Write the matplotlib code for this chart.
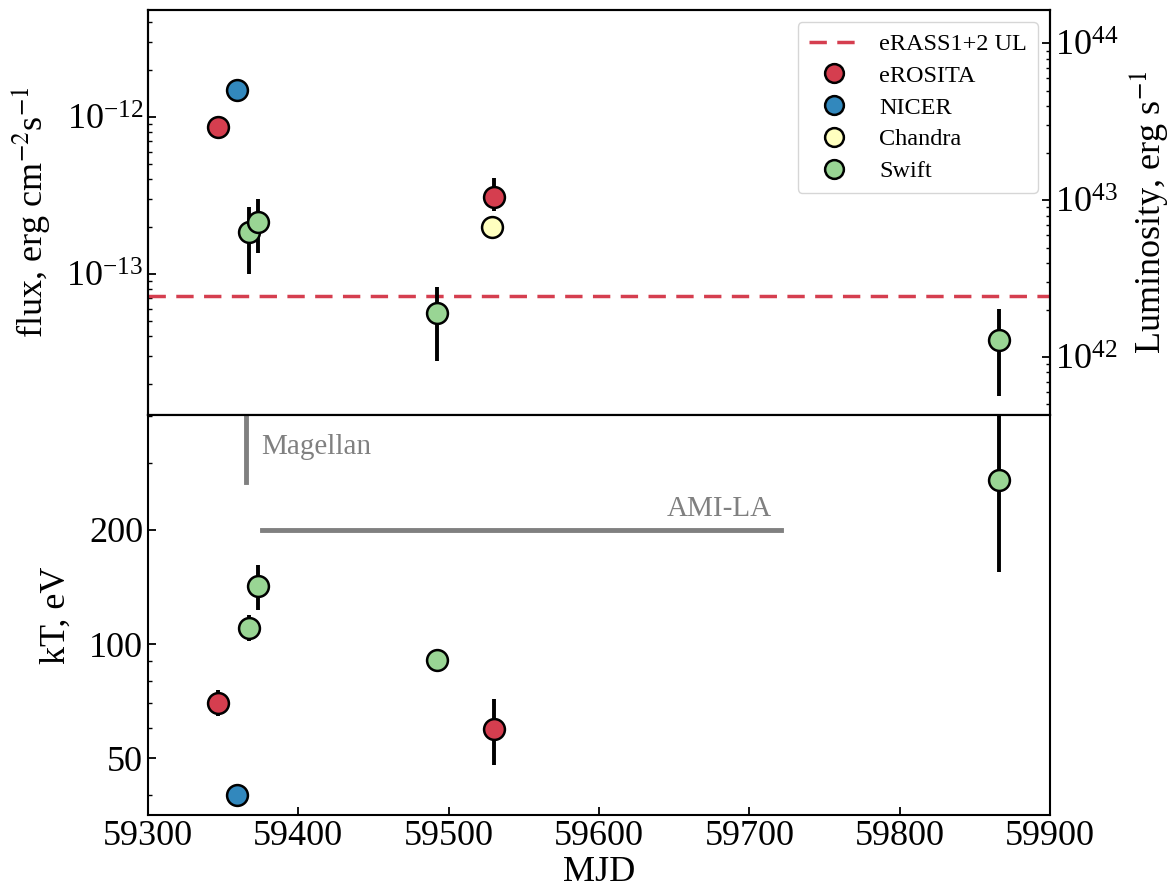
import numpy as np
import matplotlib
matplotlib.use("Agg")
import matplotlib.pyplot as plt

plt.rcParams['font.family'] = ['Liberation Serif', 'DejaVu Serif']
plt.rcParams['mathtext.fontset'] = 'stix'

# flux light curve (erg cm^-2 s^-1)
erosita_mjd = [59346.6, 59530.2]
erosita_flux = [8.6e-13, 3.1e-13]
erosita_flux_lo = [8.0e-13, 2.5e-13]
erosita_flux_hi = [9.0e-13, 4.1e-13]

nicer_mjd = [59359.2]
nicer_flux = [1.49e-12]

chandra_mjd = [59528.9]
chandra_flux = [2.0e-13]

swift_mjd = [59367.2, 59373.2, 59492.2, 59866.0]
swift_flux = [1.85e-13, 2.15e-13, 5.6e-14, 3.8e-14]
swift_flux_lo = [1.0e-13, 1.35e-13, 2.8e-14, 1.67e-14]
swift_flux_hi = [2.65e-13, 3.0e-13, 8.2e-14, 6.0e-14]

erass_ul = 7.25e-14
lum_factor = 3.4e55  # flux -> luminosity

# blackbody temperatures (eV)
erosita_kt = [70.0, 59.6]
erosita_kt_lo = [64.5, 47.9]
erosita_kt_hi = [75.6, 71.5]
nicer_kt = [39.9]
swift_kt = [110.0, 142.0, 90.7, 271.0]
swift_kt_lo = [101.8, 123.0, 89.5, 155.0]
swift_kt_hi = [119.3, 161.6, 92.0, 420.0]

magellan_mjd = 59365.2
ami_start, ami_end = 59375.8, 59721.0

c_ero, c_nicer, c_chan, c_swift = '#d53e4f', '#3288bd', '#ffffbf', '#99d594'


def errs(v, lo, hi):
    v = np.array(v)
    return [v - np.array(lo), np.array(hi) - v]


def points(ax, x, y, color, yerr=None, label=None):
    # error bars first, then the markers on top
    if yerr is not None:
        ax.errorbar(x, y, yerr=yerr, fmt='none', ecolor='k', elinewidth=2.8, capsize=0, zorder=3)
    ax.plot(x, y, 'o', ms=15, mfc=color, mec='k', mew=1.8, ls='none', label=label, zorder=4)


fig = plt.figure(figsize=(11.72, 8.96), dpi=100)
ax1 = fig.add_axes([148 / 1172, 1 - 415 / 896, 902 / 1172, 405 / 896])
ax2 = fig.add_axes([148 / 1172, 1 - 815 / 896, 902 / 1172, 400 / 896], sharex=ax1)

ax1.axhline(erass_ul, color=c_ero, ls='--', lw=2.5, dashes=(5, 3), label='eRASS1+2 UL')
points(ax1, erosita_mjd, erosita_flux, c_ero, errs(erosita_flux, erosita_flux_lo, erosita_flux_hi), 'eROSITA')
points(ax1, nicer_mjd, nicer_flux, c_nicer, label='NICER')
points(ax1, chandra_mjd, chandra_flux, c_chan, label='Chandra')
points(ax1, swift_mjd, swift_flux, c_swift, errs(swift_flux, swift_flux_lo, swift_flux_hi), 'Swift')

ax1.set_yscale('log')
ax1.set_ylim(1.26e-14, 4.8e-12)
ax1.set_ylabel(r'flux, erg cm$^{-2}$s$^{-1}$', fontsize=26, labelpad=10)
ax1.legend(loc='upper right', fontsize=17.5, handletextpad=0.8, borderpad=0.45,
           labelspacing=0.4, handlelength=2.1, markerscale=0.9)

axr = ax1.twinx()
axr.set_yscale('log')
lo, hi = ax1.get_ylim()
axr.set_ylim(lo * lum_factor, hi * lum_factor)
axr.set_ylabel(r'Luminosity, erg s$^{-1}$', fontsize=26, labelpad=6)

points(ax2, erosita_mjd, erosita_kt, c_ero, errs(erosita_kt, erosita_kt_lo, erosita_kt_hi))
points(ax2, nicer_mjd, nicer_kt, c_nicer)
points(ax2, swift_mjd, swift_kt, c_swift, errs(swift_kt, swift_kt_lo, swift_kt_hi))

ax2.set_yscale('log')
ax2.set_ylim(35.4, 402)
ax2.set_yticks([50, 100, 200])
ax2.set_yticklabels(['50', '100', '200'])
ax2.yaxis.set_minor_locator(matplotlib.ticker.LogLocator(subs=np.arange(2, 10)))
ax2.yaxis.set_minor_formatter(matplotlib.ticker.NullFormatter())
ax2.set_ylabel('kT, eV', fontsize=26, labelpad=12)
ax2.set_xlabel('MJD', fontsize=26, labelpad=2)
ax2.set_xlim(59300, 59900)

# follow-up coverage
ax2.plot([magellan_mjd, magellan_mjd], [268, 402], color='gray', lw=3.5, zorder=2)
ax2.text(magellan_mjd + 10, 331, 'Magellan', color='gray', fontsize=21, va='center')
ax2.plot([ami_start, ami_end], [200, 200], color='gray', lw=3.5, zorder=2)
ax2.text(ami_end - 6, 210, 'AMI-LA', color='gray', fontsize=21, ha='right', va='bottom')

for ax in (ax1, ax2, axr):
    ax.tick_params(which='both', direction='in', labelsize=26)
    ax.tick_params(which='major', length=6, width=1.3)
    ax.tick_params(which='minor', length=3, width=1)
    for s in ax.spines.values():
        s.set_linewidth(1.5)
ax1.tick_params(labelbottom=False, bottom=False, which='both')

fig.savefig('out.png', dpi=100)
